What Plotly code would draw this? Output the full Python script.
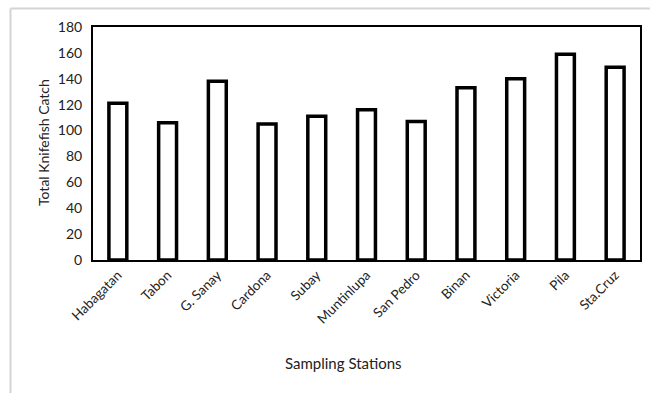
import plotly.graph_objects as go

stations = ["Habagatan", "Tabon", "G. Sanay", "Cardona", "Subay", "Muntinlupa",
            "San Pedro", "Binan", "Victoria", "Pila", "Sta.Cruz"]
catch = [121, 106, 138, 105, 111, 116, 107, 133, 140, 159, 149]
y_ticks = [0, 20, 40, 60, 80, 100, 120, 140, 160, 180]

W, H = 650, 393
PL, PR, PT, PB = 93, 640, 27, 260          # plot box in page pixels
L, T = PL, PT
R = W - PR
B = H - PB
pw = PR - PL
ph = PB - PT

def px_to_paper_x(px):
    return (px - PL) / pw

def px_to_paper_y(py):
    return (PB - py) / ph

font = "Lato, Open Sans, sans-serif"
frame = dict(color="#d4d4d4", width=2)

fig = go.Figure(go.Bar(
    x=stations, y=catch, width=0.36,
    marker=dict(color="white", line=dict(color="black", width=3.5)),
))

fig.update_layout(
    width=W, height=H,
    margin=dict(l=L, r=R, t=T, b=B, autoexpand=False),
    plot_bgcolor="white", paper_bgcolor="white",
    font=dict(family=font, size=13, color="#222"),
    showlegend=False,
    xaxis=dict(
        tickangle=-45, showline=True, linecolor="black", linewidth=2,
        mirror=True, showgrid=False, ticks="", automargin=False,
        tickfont=dict(size=13.5, color="#222"),
    ),
    yaxis=dict(
        range=[0, 180], tickvals=y_ticks, showline=True, linecolor="black",
        linewidth=2, mirror=True, showgrid=False, ticks="", automargin=False,
        ticklabelstandoff=6,
        tickfont=dict(size=14, color="#222"),
    ),
    annotations=[
        dict(text="Sampling Stations", xref="paper", yref="paper",
             x=px_to_paper_x(343), y=px_to_paper_y(363), showarrow=False,
             xanchor="center", yanchor="middle", font=dict(size=15, color="#222")),
        dict(text="Total Knifefish Catch", xref="paper", yref="paper",
             x=px_to_paper_x(43), y=px_to_paper_y(143), showarrow=False, textangle=-90,
             xanchor="center", yanchor="middle", font=dict(size=14, color="#222")),
    ],
    shapes=[
        dict(type="line", xref="paper", yref="paper",
             x0=px_to_paper_x(10.5), x1=px_to_paper_x(650),
             y0=px_to_paper_y(8.5), y1=px_to_paper_y(8.5), line=frame, layer="above"),
        dict(type="line", xref="paper", yref="paper",
             x0=px_to_paper_x(10.5), x1=px_to_paper_x(10.5),
             y0=px_to_paper_y(8.5), y1=px_to_paper_y(393), line=frame, layer="above"),
    ],
)

fig.write_html("out.html", config={"displayModeBar": False},
               post_script="document.body.style.margin='0';")
